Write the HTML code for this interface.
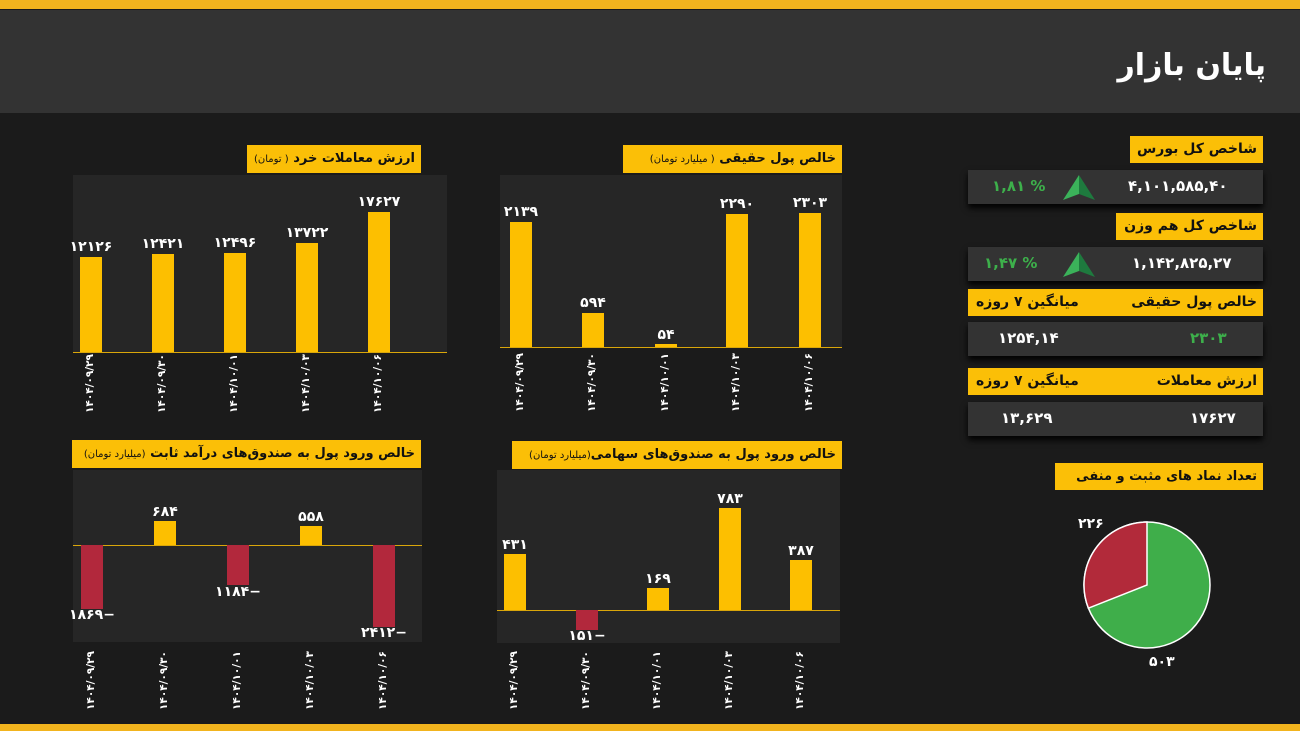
<!DOCTYPE html>
<html><head><meta charset="utf-8"><style>
*{margin:0;padding:0;box-sizing:border-box}
body{width:1300px;height:731px;background:#1b1b1b;position:relative;overflow:hidden;font-family:"DejaVu Sans","Liberation Sans",sans-serif;color:#fff}
.a{position:absolute}
.yt{position:absolute;background:#fbbf07;color:#111;font-weight:bold;font-size:13px;direction:rtl;text-align:right;padding:0 6px;line-height:27px;white-space:nowrap;letter-spacing:-0.3px}
.yt small{font-weight:normal;font-size:10px}
.plot{position:absolute;background:#262626}
.bar{position:absolute;background:#fdbf00;width:22px}
.neg{position:absolute;background:#b2283c;width:22px}
.v{position:absolute;width:60px;text-align:center;font-size:14px;font-weight:bold;color:#fff}
.d{position:absolute;font-size:10.5px;color:#fff;transform:rotate(-90deg);transform-origin:left top;white-space:nowrap;font-weight:bold}
.axis{position:absolute;height:1px;background:#d9a60a}
.row{position:absolute;background:#333;left:968px;width:295px;height:34px;box-shadow:0 4px 6px #000}
.row span{position:absolute;top:7px;font-weight:bold;font-size:15px}
</style></head><body>
<div class="a" style="left:0;top:0;width:1300px;height:9px;background:#f2b41e"></div>
<div class="a" style="left:0;top:10px;width:1300px;height:103px;background:#333"></div>
<div class="a" style="right:34px;top:48px;font-size:30px;font-weight:bold;direction:rtl;letter-spacing:-1px">پایان بازار</div>
<div class="a" style="left:0;top:724px;width:1300px;height:7px;background:#f2b41e"></div>

<div class="yt" style="left:247px;top:145px;width:174px">ارزش معاملات خرد <small>( تومان)</small></div>
<div class="plot" style="left:73px;top:175px;width:374px;height:178px"></div>
<div class="axis" style="left:73px;top:352px;width:374px"></div>
<div class="bar" style="left:80px;top:257px;height:95px"></div><div class="v" style="left:61px;top:239px">۱۲۱۲۶</div>
<div class="bar" style="left:152px;top:254px;height:98px"></div><div class="v" style="left:133px;top:236px">۱۲۴۲۱</div>
<div class="bar" style="left:224px;top:253px;height:99px"></div><div class="v" style="left:205px;top:235px">۱۲۴۹۶</div>
<div class="bar" style="left:296px;top:243px;height:109px"></div><div class="v" style="left:277px;top:225px">۱۳۷۲۲</div>
<div class="bar" style="left:368px;top:212px;height:140px"></div><div class="v" style="left:349px;top:194px">۱۷۶۲۷</div>
<div class="d" style="left:84px;top:413px">۱۴۰۴/۰۹/۲۹</div>
<div class="d" style="left:156px;top:413px">۱۴۰۴/۰۹/۳۰</div>
<div class="d" style="left:228px;top:413px">۱۴۰۴/۱۰/۰۱</div>
<div class="d" style="left:300px;top:413px">۱۴۰۴/۱۰/۰۳</div>
<div class="d" style="left:372px;top:413px">۱۴۰۴/۱۰/۰۶</div>

<div class="yt" style="left:623px;top:145px;width:219px">خالص پول حقیقی <small>( میلیارد تومان)</small></div>
<div class="plot" style="left:500px;top:175px;width:342px;height:173px"></div>
<div class="axis" style="left:500px;top:347px;width:342px"></div>
<div class="bar" style="left:510px;top:222px;height:125px"></div><div class="v" style="left:491px;top:204px">۲۱۳۹</div>
<div class="bar" style="left:582px;top:313px;height:34px"></div><div class="v" style="left:563px;top:295px">۵۹۴</div>
<div class="bar" style="left:655px;top:344px;height:3px"></div><div class="v" style="left:636px;top:327px">۵۴</div>
<div class="bar" style="left:726px;top:214px;height:133px"></div><div class="v" style="left:707px;top:196px">۲۲۹۰</div>
<div class="bar" style="left:799px;top:213px;height:134px"></div><div class="v" style="left:780px;top:195px">۲۳۰۳</div>
<div class="d" style="left:514px;top:412px">۱۴۰۴/۰۹/۲۹</div>
<div class="d" style="left:586px;top:412px">۱۴۰۴/۰۹/۳۰</div>
<div class="d" style="left:659px;top:412px">۱۴۰۴/۱۰/۰۱</div>
<div class="d" style="left:730px;top:412px">۱۴۰۴/۱۰/۰۳</div>
<div class="d" style="left:803px;top:412px">۱۴۰۴/۱۰/۰۶</div>

<div class="yt" style="left:72px;top:440px;width:349px">خالص ورود پول به صندوق‌های درآمد ثابت <small>(میلیارد  تومان)</small></div>
<div class="plot" style="left:73px;top:470px;width:349px;height:172px"></div>
<div class="axis" style="left:73px;top:545px;width:349px"></div>
<div class="neg" style="left:81px;top:545px;height:64px"></div><div class="v" style="left:62px;top:607px">۱۸۶۹−</div>
<div class="bar" style="left:154px;top:521px;height:24px"></div><div class="v" style="left:135px;top:504px">۶۸۴</div>
<div class="neg" style="left:227px;top:545px;height:40px"></div><div class="v" style="left:208px;top:584px">۱۱۸۴−</div>
<div class="bar" style="left:300px;top:526px;height:19px"></div><div class="v" style="left:281px;top:509px">۵۵۸</div>
<div class="neg" style="left:373px;top:545px;height:82px"></div><div class="v" style="left:354px;top:625px">۲۴۱۲−</div>
<div class="d" style="left:85px;top:710px">۱۴۰۴/۰۹/۲۹</div>
<div class="d" style="left:158px;top:710px">۱۴۰۴/۰۹/۳۰</div>
<div class="d" style="left:231px;top:710px">۱۴۰۴/۱۰/۰۱</div>
<div class="d" style="left:304px;top:710px">۱۴۰۴/۱۰/۰۳</div>
<div class="d" style="left:377px;top:710px">۱۴۰۴/۱۰/۰۶</div>

<div class="yt" style="left:512px;top:441px;width:330px">خالص ورود پول به صندوق‌های سهامی<small>(میلیارد تومان)</small></div>
<div class="plot" style="left:497px;top:470px;width:343px;height:173px"></div>
<div class="axis" style="left:497px;top:610px;width:343px"></div>
<div class="bar" style="left:504px;top:554px;height:56px"></div><div class="v" style="left:485px;top:537px">۴۳۱</div>
<div class="neg" style="left:576px;top:610px;height:20px"></div><div class="v" style="left:557px;top:628px">۱۵۱−</div>
<div class="bar" style="left:647px;top:588px;height:22px"></div><div class="v" style="left:628px;top:571px">۱۶۹</div>
<div class="bar" style="left:719px;top:508px;height:102px"></div><div class="v" style="left:700px;top:491px">۷۸۳</div>
<div class="bar" style="left:790px;top:560px;height:50px"></div><div class="v" style="left:771px;top:543px">۳۸۷</div>
<div class="d" style="left:508px;top:710px">۱۴۰۴/۰۹/۲۹</div>
<div class="d" style="left:580px;top:710px">۱۴۰۴/۰۹/۳۰</div>
<div class="d" style="left:651px;top:710px">۱۴۰۴/۱۰/۰۱</div>
<div class="d" style="left:723px;top:710px">۱۴۰۴/۱۰/۰۳</div>
<div class="d" style="left:794px;top:710px">۱۴۰۴/۱۰/۰۶</div>

<div class="yt" style="left:1130px;top:136px;width:133px;font-size:14px">شاخص کل بورس</div>
<div class="row" style="top:170px"><span style="left:160px">۴,۱۰۱,۵۸۵,۴۰</span><span style="left:24px;color:#3db04b">۱,۸۱ %</span>
<svg class="a" style="left:95px;top:5px" width="32" height="25"><polygon points="16,0 32,25 16,19" fill="#1e7a3e"/><polygon points="16,0 0,25 16,19" fill="#3bb25a"/></svg></div>
<div class="yt" style="left:1116px;top:213px;width:147px;font-size:14px">شاخص کل هم وزن</div>
<div class="row" style="top:247px"><span style="left:164px">۱,۱۴۲,۸۲۵,۲۷</span><span style="left:16px;color:#3db04b">۱,۴۷ %</span>
<svg class="a" style="left:95px;top:5px" width="32" height="25"><polygon points="16,0 32,25 16,19" fill="#1e7a3e"/><polygon points="16,0 0,25 16,19" fill="#3bb25a"/></svg></div>
<div class="yt" style="left:968px;top:289px;width:295px;font-size:14px">خالص پول حقیقی<span style="position:absolute;left:8px">میانگین ۷ روزه</span></div>
<div class="row" style="top:322px"><span style="left:30px">۱۲۵۴,۱۴</span><span style="left:222px;color:#3db04b">۲۳۰۳</span></div>
<div class="yt" style="left:968px;top:368px;width:295px;font-size:14px">ارزش معاملات<span style="position:absolute;left:8px">میانگین ۷ روزه</span></div>
<div class="row" style="top:402px"><span style="left:33px">۱۳,۶۲۹</span><span style="left:222px">۱۷۶۲۷</span></div>
<div class="yt" style="left:1055px;top:463px;width:208px;font-size:13px">تعداد نماد های مثبت و منفی</div>
<svg class="a" style="left:1080px;top:518px" width="134" height="134">
<circle cx="67" cy="67" r="63" fill="#3fae4a" stroke="#fff" stroke-width="1.5"/>
<path d="M67,67 L67,4 A63,63 0 0 0 8.4,90.2 Z" fill="#b22a3a" stroke="#fff" stroke-width="1.5"/>
</svg>
<div class="a" style="left:1078px;top:516px;font-size:14px;font-weight:bold">۲۲۶</div>
<div class="a" style="left:1149px;top:654px;font-size:14px;font-weight:bold">۵۰۳</div>
</body></html>
